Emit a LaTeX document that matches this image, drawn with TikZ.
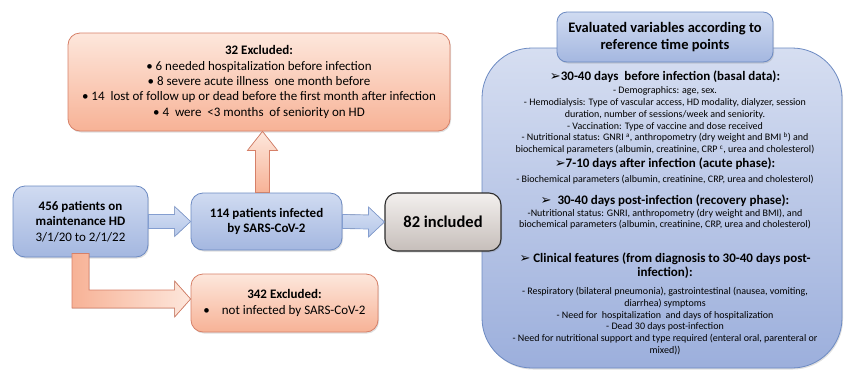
\documentclass[tikz,border=0pt]{standalone}
\usepackage{fontspec}
\setmainfont{Carlito}
\newfontfamily\symb{DejaVu Sans}
\usetikzlibrary{calc, shadows}
\definecolor{exclTop}{RGB}{253,231,220}
\definecolor{exclBot}{RGB}{247,178,150}
\definecolor{exclLine}{RGB}{214,128,104}
\definecolor{blueTop}{RGB}{208,219,241}
\definecolor{blueBot}{RGB}{164,183,224}
\definecolor{blueLine}{RGB}{108,138,194}
\definecolor{arrowTop}{RGB}{214,224,244}
\definecolor{arrowBot}{RGB}{180,198,232}
\definecolor{arrowLine}{RGB}{132,158,208}
\definecolor{grayTop}{RGB}{243,240,238}
\definecolor{grayBot}{RGB}{198,190,186}
\definecolor{grayLine}{RGB}{45,45,45}
\definecolor{bigTop}{RGB}{214,222,241}
\definecolor{bigBot}{RGB}{156,175,220}
\newcommand{\timehead}[1]{{\fontsize{13}{15}\selectfont\bfseries #1}}

\begin{document}
\begin{tikzpicture}[x=1pt, y=-1pt,
  box/.style={draw, rounded corners=12pt, align=center, inner sep=0pt, line width=0.8pt,
    font=\fontsize{13}{15.3}\selectfont,
    drop shadow={opacity=0.25, shadow xshift=1pt, shadow yshift=-1.5pt}},
  redbox/.style={box, draw=exclLine, top color=exclTop, bottom color=exclBot},
  bluebox/.style={box, draw=blueLine, top color=blueTop, bottom color=blueBot},
  graybox/.style={box, draw=grayLine, line width=1.1pt, top color=grayTop, bottom color=grayBot},
  bluearrow/.style={draw=arrowLine, line width=0.7pt, top color=arrowTop, bottom color=arrowBot},
  redarrow/.style={draw=exclLine, line width=0.7pt, top color=exclTop, bottom color=exclBot},
  varstext/.style={align=center, inner sep=0pt, anchor=north, font=\fontsize{10}{11.8}\selectfont}]
\useasboundingbox (0,0) rectangle (844,370);

\node[bluebox, minimum width=360, minimum height=320, rounded corners=50pt,
  top color=bigTop, bottom color=bigBot] (vars) at (662,208) {};
\node[bluebox, minimum width=216, minimum height=50, rounded corners=10pt,
  font=\fontsize{14.5}{17}\selectfont\bfseries] (head) at (665,37)
  {Evaluated variables according to\\reference time points};

\node[varstext] (sec1) at (665,70.5) {\timehead{{\symb ➢}30-40 days\ \ before infection (basal data):}\\[1.5pt]
- Demographics: age, sex.\\
- Hemodialysis: Type of vascular access, HD modality, dialyzer, session\\
duration, number of sessions/week and seniority.\\
- Vaccination: Type of vaccine and dose received\\
- Nutritional status: GNRI \textsuperscript{a}, anthropometry (dry weight and BMI \textsuperscript{b}) and\\
biochemical parameters (albumin, creatinine, CRP \textsuperscript{c}, urea and cholesterol)};
\node[varstext] (sec2) at (665,157.5) {\timehead{{\symb ➢}7-10 days after infection (acute phase):}\\[3pt]
- Biochemical parameters (albumin, creatinine, CRP, urea and cholesterol)};
\node[varstext] (sec3) at (665,194.5) {\timehead{{\symb ➢}\ \ 30-40 days post-infection (recovery phase):}\\
-Nutritional status: GNRI, anthropometry (dry weight and BMI), and\\
biochemical parameters (albumin, creatinine, CRP, urea and cholesterol)};
\node[varstext] (sec4) at (665,252.5) {\timehead{{\symb ➢} Clinical features (from diagnosis to 30-40 days post-}\\[1.5pt]
\timehead{infection):}\\[6pt]
- Respiratory (bilateral pneumonia), gastrointestinal (nausea, vomiting,\\
diarrhea) symptoms\\
- Need for\ \ hospitalization\ \ and days of hospitalization\\
- Dead 30 days post-infection\\
- Need for nutritional support and type required (enteral oral, parenteral or\\
mixed))};

\node[redbox, minimum width=382, minimum height=98] (excl1) at (259,82)
  {\textbf{32 Excluded:}\\
  • 6 needed hospitalization before infection\\
  • 8 severe acute illness\ \ one month before\\
  • 14\ \ lost of follow up or dead before the first month after infection\\
  • 4\ \ were\ \ <3 months\ \ of seniority on HD};
\node[bluebox, minimum width=135, minimum height=71] (hd) at (80.5,221.5)
  {\textbf{456 patients on}\\\textbf{maintenance HD}\\3/1/20 to 2/1/22};
\node[bluebox, minimum width=151, minimum height=57] (inf) at (266.5,221.5)
  {\textbf{114 patients infected}\\\textbf{by SARS-CoV-2}};
\node[graybox, minimum width=116, minimum height=58,
  font=\fontsize{16.5}{19}\selectfont\bfseries] (incl) at (443,222) {82 included};
\node[redbox, minimum width=187, minimum height=58] (excl2) at (284.5,303)
  {\textbf{342 Excluded:}\\•\hspace{12pt}not infected by SARS-CoV-2};

\foreach \a/\b in {hd/inf, inf/incl} {
  \filldraw[bluearrow] ($(\a.east)+(0,-7)$) -- ($(\b.west)+(-16,-7)$) -- ($(\b.west)+(-16,-15)$)
    -- (\b.west) -- ($(\b.west)+(-16,15)$) -- ($(\b.west)+(-16,7)$) -- ($(\a.east)+(0,7)$) -- cycle;
}

\coordinate (upbase) at ($(inf.north)+(-4,0)$);
\coordinate (uptip) at (upbase |- excl1.south);
\filldraw[redarrow] ($(upbase)+(-7,0)$) -- ($(uptip)+(-7,19)$) -- ($(uptip)+(-15,19)$) -- (uptip)
  -- ($(uptip)+(15,19)$) -- ($(uptip)+(7,19)$) -- ($(upbase)+(7,0)$) -- cycle;

\coordinate (elbtip) at ($(excl2.west)+(0,-4)$);
\filldraw[redarrow, left color=exclBot, right color=exclTop] ($(hd.south)+(-8.5,-4)$) |- ($(elbtip)+(-16,9)$)
  -- ($(elbtip)+(-16,18)$) -- (elbtip) -- ($(elbtip)+(-16,-18)$) -- ($(elbtip)+(-16,-9)$)
  -| ($(hd.south)+(8.5,-4)$) -- cycle;
\end{tikzpicture}
\end{document}
